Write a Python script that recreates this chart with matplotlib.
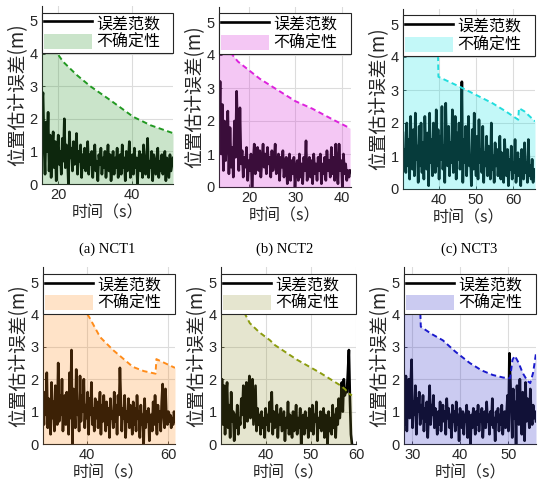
import numpy as np
import matplotlib
matplotlib.use("Agg")
import matplotlib.pyplot as plt

plt.rcParams['font.family'] = ['Liberation Sans', 'Noto Sans CJK SC', 'DejaVu Sans']

W, H = 539, 495

# ---------------- data ----------------
labels_title = ["(a) NCT1", "(b) NCT2", "(c) NCT3"]
legend_labels = ["误差范数", "不确定性"]
xlabel = "时间（s）"
ylabel = "位置估计误差(m)"

# panel 1
t1 = (15.7, 51.0)
err1 = [2.5, 2.8, 1.2, 0.3, 1.9, 1.0, 2.2, 0.4, 1.5, 0.2, 1.1, 1.6, 0.5, 1.3, 0.1, 0.9, 1.5, 0.6, 1.0, 0.3,
        1.4, 0.7, 2.0, 0.5, 1.2, 0.9, 0.0, 1.6, 0.8, 1.1, 0.4, 1.3, 0.6, 0.9, 1.55, 0.3, 1.0, 0.7, 1.2, 0.2,
        0.9, 0.5, 1.1, 0.4, 0.8, 1.3, 0.3, 0.9, 0.6, 1.0, 0.2, 0.8, 1.2, 0.4, 0.7, 0.1, 0.9, 0.6, 1.1, 0.3,
        0.8, 0.5, 1.0, 0.2, 0.7, 1.2, 0.4, 0.9, 0.1, 0.6, 1.0, 0.3, 0.8, 0.5, 1.1, 0.2, 0.7, 0.9, 0.3, 1.2,
        0.5, 0.8, 0.1, 1.0, 0.4, 0.7, 1.3, 0.2, 0.6, 0.9, 0.3, 1.1, 0.5, 0.8, 0.0, 0.7, 1.0, 0.4, 0.9, 0.2,
        1.2, 0.6, 0.3, 0.8, 1.4, 0.2, 0.7, 0.5, 1.0, 0.1, 0.9, 0.6, 0.3, 0.8, 1.1, 0.2, 0.7, 0.4, 0.9, 0.3,
        0.6, 1.0, 0.1, 0.8, 0.5, 0.2, 0.9, 0.4, 0.6, 0.8]
bx1 = [15.7, 18.0, 21.4, 25.0, 28.7, 34.0, 40.3, 45.0, 51.0]
by1 = [4.6, 4.3, 3.75, 3.35, 3.0, 2.58, 2.06, 1.8, 1.56]

# panel 2
t2 = (13.5, 41.8)
err2 = [1.6, 3.2, 1.0, 2.5, 0.5, 2.0, 0.8, 1.5, 2.3, 0.4, 1.8, 0.6, 1.2, 0.3, 2.0, 0.9, 2.9, 1.4, 0.5, 2.4,
        0.7, 1.1, 0.3, 0.9, 0.6, 1.2, 0.2, 0.8, 0.5, 1.0, 0.0, 0.7, 1.3, 0.4, 0.9, 1.2, 0.5, 1.1, 0.3, 0.8,
        1.3, 0.6, 1.0, 0.4, 1.2, 0.7, 0.9, 0.3, 1.1, 0.5, 0.8, 1.3, 0.4, 0.7, 1.0, 0.2, 0.9, 0.6, 1.1, 0.3,
        0.7, 0.9, 0.1, 0.6, 1.0, 0.2, 0.8, 0.4, 0.9, 0.0, 0.6, 0.8, 0.2, 1.0, 0.3, 0.7, 0.1, 0.9, 0.5, 1.4,
        0.2, 0.6, 0.9, 0.3, 0.8, 0.1, 1.0, 0.4, 0.7, 0.2, 0.9, 0.5, 1.0, 0.1, 0.7, 0.4, 0.9, 0.2, 1.1, 0.5,
        0.8, 0.3, 1.2, 0.4, 0.9, 0.2, 1.3, 0.6, 0.1, 1.3, 0.5, 0.8, 0.0, 1.0, 0.4, 0.7, 0.2, 0.5, 0.3, 0.5]
bx2 = [13.5, 17.6, 22.3, 26.6, 30.0, 33.7, 38.0, 41.8]
by2 = [4.5, 3.8, 3.28, 2.9, 2.6, 2.37, 2.05, 1.78]

# panel 3
t3 = (30.4, 65.8)
err3 = [1.7, 0.8, 1.2, 0.5, 2.0, 0.7, 1.5, 0.3, 2.2, 1.0, 0.6, 1.8, 0.4, 2.3, 0.9, 1.3, 0.2, 1.9, 0.7, 2.0,
        0.5, 1.4, 0.3, 2.2, 1.1, 0.6, 1.7, 0.1, 2.3, 0.8, 1.5, 0.4, 2.0, 1.2, 0.5, 2.4, 0.7, 1.8, 0.3, 1.6,
        0.9, 2.5, 0.6, 1.3, 0.2, 2.6, 1.0, 0.7, 1.9, 0.4, 1.4, 0.8, 2.4, 0.5, 1.2, 2.2, 0.3, 1.7, 0.9, 2.0,
        0.6, 1.1, 3.25, 0.2, 1.5, 0.8, 1.9, 0.4, 1.3, 2.2, 0.7, 1.0, 0.1, 1.8, 0.6, 2.3, 0.9, 0.4, 1.6, 0.3,
        2.1, 0.8, 1.2, 0.5, 1.9, 0.2, 1.1, 0.7, 1.6, 0.4, 1.3, 0.9, 0.3, 2.0, 0.6, 1.0, 0.2, 1.4, 0.7, 1.2,
        0.4, 0.9, 1.6, 0.3, 1.1, 0.6, 0.2, 1.5, 0.8, 0.4, 1.2, 0.1, 0.9, 0.6, 1.3, 0.3, 0.8, 0.5, 1.5, 0.2,
        0.7, 1.1, 0.4, 0.9, 0.1, 1.2, 0.6, 0.3, 1.4, 0.5, 0.8, 0.2, 1.5, 0.4, 0.7, 0.3, 0.9, 0.2, 0.6, 0.4]
bx3 = [30.4, 39.7, 39.9, 45.6, 50.0, 54.4, 58.0, 61.3, 61.5, 63.0, 65.8]
by3 = [4.8, 4.6, 3.4, 3.1, 2.85, 2.6, 2.35, 2.1, 2.45, 2.35, 2.05]

# panel 4
t4 = (29.1, 61.7)
err4 = [1.2, 0.6, 1.6, 0.9, 2.2, 0.5, 1.4, 1.0, 0.3, 1.9, 0.8, 1.3, 0.4, 1.8, 1.1, 0.6, 2.5, 0.7, 1.5, 0.9,
        2.0, 0.4, 1.2, 1.5, 0.6, 1.6, 1.0, 0.3, 2.2, 0.8, 2.9, 0.0, 1.7, 1.1, 0.5, 2.3, 0.9, 1.3, 0.4, 2.1,
        0.7, 1.5, 1.0, 2.0, 0.5, 1.2, 0.8, 1.6, 0.3, 1.4, 0.9, 1.9, 0.6, 1.1, 0.4, 1.4, 0.8, 1.3, 0.5, 1.0,
        1.6, 0.3, 1.2, 0.7, 1.5, 0.9, 0.4, 1.3, 0.6, 1.1, 0.2, 1.4, 0.8, 1.0, 0.5, 1.6, 0.7, 1.2, 0.3, 1.5,
        0.9, 2.35, 1.3, 0.4, 1.1, 0.8, 1.5, 0.2, 1.0, 0.7, 1.4, 0.5, 1.2, 0.9, 0.3, 1.3, 0.6, 1.1, 0.4, 1.5,
        0.8, 1.0, 0.2, 1.2, 0.6, 0.9, 0.0, 1.4, 0.5, 1.0, 0.7, 1.1, 0.1, 0.9, 0.9, 0.4, 1.3, 0.6, 1.5, 0.8,
        0.3, 1.2, 0.7, 1.0, 0.4, 1.3, 1.85, 0.9, 0.5, 1.7, 0.8, 0.6, 1.0, 0.7, 0.9, 0.5, 0.8, 0.6, 1.0, 0.7]
bx4 = [29.1, 39.0, 40.5, 43.2, 46.4, 51.3, 54.0, 56.9, 57.1, 61.7]
by4 = [4.9, 4.2, 3.92, 3.3, 2.9, 2.38, 2.25, 2.17, 2.62, 2.35]

# panel 5
t5 = (30.0, 59.1)
err5 = [0.8, 2.0, 0.6, 1.8, 0.3, 1.5, 1.9, 0.5, 1.2, 0.2, 1.6, 0.7, 1.0, 0.1, 0.9, 0.5, 1.2, 0.3, 0.8, 0.6,
        1.4, 0.9, 1.8, 0.5, 1.3, 1.9, 0.7, 1.5, 2.1, 0.8, 1.6, 2.0, 0.6, 1.2, 1.8, 0.4, 1.1, 0.6, 0.9, 0.3,
        1.0, 0.5, 0.8, 0.2, 1.1, 0.6, 0.9, 0.4, 1.3, 0.7, 1.6, 0.3, 1.0, 0.5, 0.8, 1.2, 0.2, 0.9, 0.6, 1.1,
        0.4, 0.7, 1.0, 0.1, 0.8, 0.5, 1.3, 0.3, 0.9, 0.6, 0.2, 1.0, 0.4, 0.7, 1.2, 0.3, 0.8, 0.5, 1.1, 0.0,
        0.7, 0.9, 0.3, 1.0, 0.5, 0.8, 0.2, 1.1, 0.6, 0.4, 1.2, 0.3, 0.9, 0.7, 1.3, 0.1, 0.8, 0.5, 1.0, 0.4,
        0.7, 1.1, 0.2, 0.9, 0.6, 0.0, 1.0, 0.4, 0.8, 0.3, 1.2, 0.5, 0.9, 0.2, 1.1, 0.6, 1.4, 0.8, 1.2, 1.9,
        1.0, 2.0, 1.5, 1.7, 1.6, 2.2, 2.9, 1.4, 0.3, 0.0]
bx5 = [30.0, 35.0, 36.4, 38.5, 40.9, 42.0, 46.9, 52.0, 56.4, 57.5, 58.5, 59.1]
by5 = [4.9, 4.1, 3.73, 3.45, 3.2, 3.05, 2.6, 2.2, 1.82, 1.7, 1.55, 1.5]

# panel 6
t6 = (28.3, 55.8)
err6 = [1.2, 0.6, 2.1, 0.4, 1.6, 2.0, 0.8, 1.8, 2.6, 0.5, 1.3, 0.9, 1.8, 0.3, 1.4, 1.0, 1.6, 0.6, 1.2, 0.8,
        1.5, 0.4, 1.1, 0.7, 1.3, 0.2, 1.0, 1.8, 0.6, 1.2, 0.9, 1.5, 0.5, 1.1, 0.8, 0.3, 1.0, 0.6, 1.3, 0.4,
        0.9, 1.2, 0.7, 1.0, 0.3, 1.4, 0.8, 1.1, 0.5, 0.9, 0.2, 1.2, 0.7, 1.0, 0.4, 1.3, 0.6, 0.9, 0.1, 1.1,
        0.8, 0.5, 1.0, 0.3, 0.9, 0.7, 1.2, 0.2, 1.0, 0.6, 0.0, 0.9, 0.5, 1.1, 0.8, 0.3, 1.0, 0.6, 1.2, 0.4,
        0.9, 0.7, 1.1, 0.2, 0.8, 1.0, 0.5, 1.3, 0.7, 0.9, 0.3, 1.0, 0.6, 1.4, 0.5, 0.8, 0.1, 1.0, 0.7, 1.1,
        0.4, 0.9, 0.6, 1.2, 0.3, 0.8, 1.0, 0.5, 0.9, 1.5, 0.4, 2.8, 2.0, 1.0, 0.2, 1.7, 0.8, 1.3, 0.0, 1.8,
        1.1, 0.6, 2.0, 0.9, 0.3, 1.6, 1.2, 0.1, 1.9, 0.7, 1.4, 1.0, 0.5, 1.7, 0.9, 0.6, 1.2, 0.8, 1.0, 0.7]
bx6 = [28.3, 31.6, 31.8, 34.0, 36.4, 39.0, 42.0, 44.5, 46.8, 49.0, 50.4, 50.9, 51.4, 52.2, 53.0, 54.0, 54.6, 55.2, 55.8]
by6 = [4.9, 4.5, 3.62, 3.4, 3.2, 2.85, 2.5, 2.27, 2.13, 2.05, 2.03, 2.6, 2.72, 2.5, 2.2, 1.95, 1.88, 2.2, 2.8]

panels = [
    dict(t=t1, err=err1, bx=bx1, by=by1, xlim=(15.7, 51.0), xticks=[20, 40],
         base=(0.2, 0.6, 0.2), alpha=0.26, dash='#229922', px=(42, 173, 184, 32.6)),
    dict(t=t2, err=err2, bx=bx2, by=by2, xlim=(13.5, 42.0), xticks=[20, 30, 40],
         base=(0.85, 0.2, 0.85), alpha=0.27, dash='#dd22dd', px=(219, 351, 187, 33.0)),
    dict(t=t3, err=err3, bx=bx3, by=by3, xlim=(30.4, 65.8), xticks=[40, 50, 60],
         base=(0.1, 0.9, 0.9), alpha=0.26, dash='#22dddd', px=(403, 535, 189, 33.0)),
    dict(t=t4, err=err4, bx=bx4, by=by4, xlim=(29.1, 61.7), xticks=[40, 60],
         base=(1.0, 0.55, 0.1), alpha=0.24, dash='#ff8c1a', px=(43, 175, 444, 32.4)),
    dict(t=t5, err=err5, bx=bx5, by=by5, xlim=(30.0, 60.0), xticks=[40, 50, 60],
         base=(0.55, 0.55, 0.15), alpha=0.22, dash='#8c9c10', px=(221, 356, 444, 32.4)),
    dict(t=t6, err=err6, bx=bx6, by=by6, xlim=(28.3, 55.8), xticks=[30, 40, 50],
         base=(0.25, 0.25, 0.8), alpha=0.27, dash='#1a1acc', px=(404, 536, 444, 32.4)),
]

YTOP = 5.45
CJK = ['Noto Sans CJK SC', 'DejaVu Sans']
fig = plt.figure(figsize=(W / 100, H / 100), dpi=100)
fig.patch.set_facecolor('white')

for i, p in enumerate(panels):
    l, r, y0, sc = p['px']
    top = y0 - YTOP * sc
    ax = fig.add_axes([l / W, 1 - y0 / H, (r - l) / W, (y0 - top) / H])
    t = np.linspace(p['t'][0], p['t'][1], len(p['err']))
    ax.plot(t, p['err'], color='black', lw=1.9, zorder=2, label=legend_labels[0])
    ax.fill_between(p['bx'], 0, p['by'], color=p['base'], alpha=p['alpha'], lw=0,
                    zorder=3, label=legend_labels[1])
    ax.plot(p['bx'], p['by'], color=p['dash'], lw=1.4, ls=(0, (2.8, 1.8)), zorder=4)
    ax.set_xlim(*p['xlim'])
    ax.set_ylim(0, YTOP)
    ax.set_xticks(p['xticks'])
    ax.set_yticks([0, 1, 2, 3, 4, 5])
    ax.grid(True, color='#dcdcdc', lw=0.8)
    ax.set_axisbelow(True)
    for s in ['top', 'right']:
        ax.spines[s].set_visible(False)
    for s in ['left', 'bottom']:
        ax.spines[s].set_color('#262626')
        ax.spines[s].set_linewidth(0.8)
    ax.tick_params(direction='in', length=2, width=0.6, labelsize=10.5, pad=3, colors='#262626')
    ax.set_xlabel(xlabel, fontsize=11.5, family=CJK, labelpad=2, color='#262626')
    ax.set_ylabel(ylabel, fontsize=13.5, family=CJK, labelpad=1, color='#262626')
    leg = ax.legend(loc='upper left', bbox_to_anchor=(0, 0.965, 1, 0.0), mode='expand',
                    borderaxespad=0, fancybox=False, framealpha=1, edgecolor='#262626',
                    prop={'family': CJK, 'size': 11.5},
                    handlelength=3.0, handleheight=1.1, handletextpad=0.25,
                    labelspacing=0.1, borderpad=0.15)
    leg.get_frame().set_linewidth(0.8)
    leg.set_zorder(10)

# subplot captions under the top row
for i, p in enumerate(panels[:3]):
    l, r, y0, sc = p['px']
    fig.text((l + r) / 2 / W, 1 - 249 / H, labels_title[i], ha='center', va='center',
             fontsize=10.5, family='Liberation Serif')

fig.savefig('out.png', dpi=100, facecolor='white')
